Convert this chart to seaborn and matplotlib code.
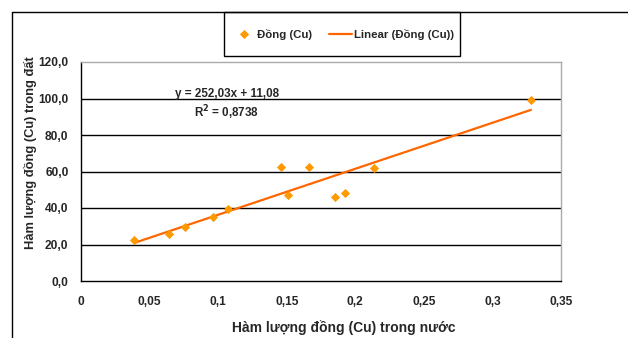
import matplotlib
matplotlib.use("Agg")
import matplotlib.pyplot as plt
from matplotlib.lines import Line2D
from matplotlib.patches import Rectangle
import seaborn as sns
import pandas as pd

# Data
water_cu = [0.0386, 0.0642, 0.0758, 0.0963, 0.107, 0.1456, 0.151, 0.166, 0.185, 0.1927, 0.2136, 0.328]
soil_cu = [22.3, 25.7, 29.7, 35.2, 39.4, 62.5, 47.1, 62.5, 46.0, 48.4, 61.7, 99.3]
slope = 252.03
intercept = 11.08
r2_text = "0,8738"
x_ticks = [0, 0.05, 0.1, 0.15, 0.2, 0.25, 0.3, 0.35]
x_tick_labels = ["0", "0,05", "0,1", "0,15", "0,2", "0,25", "0,3", "0,35"]
y_ticks = [0, 20, 40, 60, 80, 100, 120]
y_tick_labels = ["0,0", "20,0", "40,0", "60,0", "80,0", "100,0", "120,0"]

df = pd.DataFrame({"x": water_cu, "y": soil_cu})
xr = [min(water_cu), max(water_cu)]
trend = pd.DataFrame({"x": xr, "y": [slope * v + intercept for v in xr]})

sns.set_style("white")
plt.rcParams["font.family"] = ["Liberation Sans", "DejaVu Sans"]
plt.rcParams["font.weight"] = "bold"

fig = plt.figure(figsize=(6.28, 3.38), dpi=100)
W, H = 628, 338
ax = fig.add_axes([81 / W, 1 - 281 / H, (561 - 81) / W, (281 - 62) / H])

orange_pt = "#FF9900"
orange_ln = "#FF6600"

sns.lineplot(data=trend, x="x", y="y", ax=ax, color=orange_ln, linewidth=1.6,
             label="Linear (Đồng (Cu))", zorder=3)
sns.scatterplot(data=df, x="x", y="y", ax=ax, color=orange_pt, marker="D", s=22,
                edgecolor=orange_pt, linewidth=0, label="Đồng (Cu)", zorder=4)

ax.set_xlim(0, 0.35)
ax.set_ylim(0, 120)
ax.set_xticks(x_ticks)
ax.set_xticklabels(x_tick_labels)
ax.set_yticks(y_ticks)
ax.set_yticklabels(y_tick_labels)
ax.tick_params(axis="both", direction="out", length=4, width=1, color="black",
               labelsize=8.6, pad=5)
ax.tick_params(axis="x", pad=7)
for lab in ax.get_xticklabels() + ax.get_yticklabels():
    lab.set_fontweight("bold")
ax.grid(False)
for yv in y_ticks[1:-1]:
    ax.axhline(yv, color="black", linewidth=1, zorder=1)

for side in ["left", "bottom"]:
    ax.spines[side].set_color("black")
    ax.spines[side].set_linewidth(1)
for side in ["top", "right"]:
    ax.spines[side].set_color("#aaaaaa")
    ax.spines[side].set_linewidth(1)

ax.set_xlabel("Hàm lượng đồng (Cu) trong nước", fontsize=10, fontweight="bold")
ax.xaxis.set_label_coords((344 - 81) / 480, (281 - 320) / 219)
ax.set_ylabel("Hàm lượng đồng (Cu) trong đất", fontsize=9.3, fontweight="bold")
ax.yaxis.set_label_coords((37 - 81) / 480, (281 - 153) / 219)

ax.text(0.1062, 102.3, "y = 252,03x + 11,08", fontsize=8.4, fontweight="bold", ha="center", va="center")
ax.text(0.1062, 92.4, "R$^{2}$ = " + r2_text, fontsize=8.4, fontweight="bold", ha="center", va="center")

handles, labels = ax.get_legend_handles_labels()
order = [labels.index("Đồng (Cu)"), labels.index("Linear (Đồng (Cu))")]
if ax.get_legend():
    ax.get_legend().remove()
leg = fig.legend([handles[i] for i in order], [labels[i] for i in order],
                 loc="center", bbox_to_anchor=(343 / W, 1 - 34 / H),
                 ncol=2, frameon=False,
                 prop={"weight": "bold", "size": 8.2},
                 handlelength=2.0, scatteryoffsets=[0.5],
                 columnspacing=1.5, handletextpad=0.15)
# legend frame box
fig.add_artist(Rectangle((224 / W, 1 - 56 / H), (460 - 224) / W, (56 - 12) / H,
                         transform=fig.transFigure, fill=False, edgecolor="black",
                         linewidth=1))

# outer chart frame (cropped)
fig.add_artist(Line2D([12 / W, 1], [1 - 12 / H, 1 - 12 / H], color="black", linewidth=1))
fig.add_artist(Line2D([12 / W, 12 / W], [0, 1 - 12 / H], color="black", linewidth=1))

fig.savefig("out.png", dpi=100)
